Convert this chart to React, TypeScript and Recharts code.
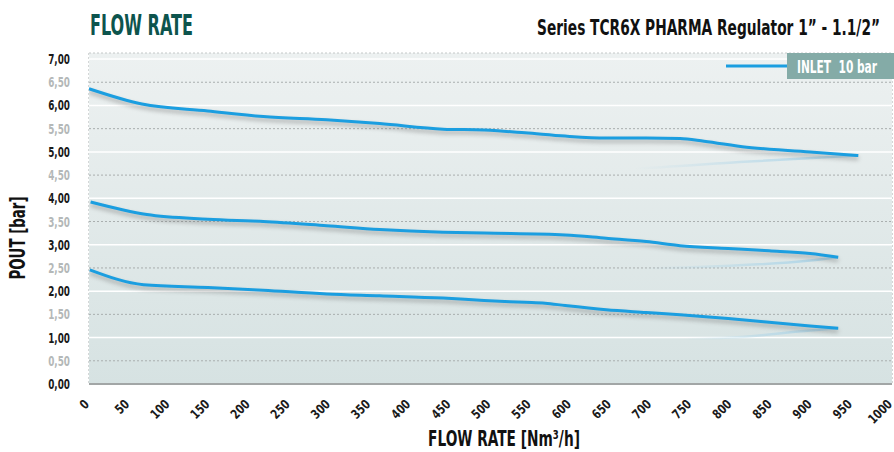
import { useLayoutEffect, useRef, useState } from 'react';
import { LineChart, Line, XAxis, YAxis, CartesianGrid, ReferenceArea, ReferenceLine, Customized } from 'recharts';

const FONT = "'DejaVu Sans Condensed', 'Liberation Sans Narrow', sans-serif";
const BLUE = '#1b9ee0';
const TEAL = '#0d544d';

// flow rate [Nm3/h] -> outlet pressure [bar]
const TOP_Q = [0, 66, 148, 217, 296, 362, 441, 492, 543, 593, 644, 694, 736, 766, 819, 898, 958];
const TOP_P = [6.36, 6.03, 5.88, 5.76, 5.69, 5.61, 5.49, 5.47, 5.41, 5.34, 5.3, 5.3, 5.29, 5.23, 5.1, 5.0, 4.92];
const MID_Q = [2, 72, 148, 217, 296, 362, 441, 492, 593, 644, 694, 736, 796, 847, 898, 933];
const MID_P = [3.92, 3.65, 3.55, 3.5, 3.41, 3.33, 3.27, 3.25, 3.21, 3.14, 3.07, 2.98, 2.92, 2.87, 2.81, 2.73];
const LOW_Q = [1, 68, 148, 217, 296, 362, 441, 492, 543, 568, 593, 644, 694, 736, 796, 847, 898, 933];
const LOW_P = [2.46, 2.14, 2.08, 2.02, 1.94, 1.9, 1.85, 1.8, 1.76, 1.74, 1.69, 1.6, 1.54, 1.49, 1.41, 1.33, 1.25, 1.2];

// faint return curves
const TOP_RET_Q = [680, 713, 810, 958];
const TOP_RET_P = [4.64, 4.67, 4.78, 4.92];
const MID_RET_Q = [690, 736, 898, 933];
const MID_RET_P = [2.49, 2.51, 2.66, 2.73];
const LOW_RET_Q = [740, 798, 898, 933];
const LOW_RET_P = [0.97, 1.0, 1.15, 1.2];

const X_TICKS = [0, 50, 100, 150, 200, 250, 300, 350, 400, 450, 500, 550, 600, 650, 700, 750, 800, 850, 900, 950, 1000];
const Y_TICKS = [0, 0.5, 1, 1.5, 2, 2.5, 3, 3.5, 4, 4.5, 5, 5.5, 6, 6.5, 7];
const Y_MAX = 7.13;
const LEGEND_LABEL = 'INLET\u00a0 10 bar';

const zip = (q: number[], p: number[]) => q.map((v, i) => ({ q: v, p: p[i] }));

// squeezes a text horizontally so it spans the given width (condensed look)
function FitText({ x, y, width, anchor = 'start', rotate = 0, children, ...rest }: any) {
  const ref = useRef<SVGTextElement>(null);
  const [s, setS] = useState(1);
  useLayoutEffect(() => {
    const w = ref.current?.getBBox().width;
    if (w) setS(width / w);
  }, [width]);
  return (
    <text ref={ref} transform={`translate(${x},${y}) rotate(${rotate}) scale(${s},1)`} textAnchor={anchor}
      fontFamily={FONT} fontWeight="bold" {...rest}>
      {children}
    </text>
  );
}

function YTick({ x, y, payload }: any) {
  const v = payload.value as number;
  const whole = v % 1 === 0;
  return (
    <FitText x={x - 11} y={y + 5} width={22} anchor="end" fontSize={14} fill={whole ? '#1a1a1a' : '#b4b8b8'}>
      {v.toFixed(2).replace('.', ',')}
    </FitText>
  );
}

function XTick({ x, y, payload }: any) {
  return (
    <g transform={`translate(${x + 1},${y + 13})`}>
      <text textAnchor="end" transform="rotate(-45) scale(0.85,1)" fontFamily={FONT} fontWeight="bold" fontSize={13} fill="#1a1a1a">
        {payload.value}
      </text>
    </g>
  );
}

function Titles() {
  return (
    <g>
      <FitText x={90} y={35} width={103} fontSize={28} fill={TEAL}>FLOW RATE</FitText>
      <FitText x={880} y={35} width={343} anchor="end" fontSize={22} fill="#111">
        Series TCR6X PHARMA Regulator 1” - 1.1/2”
      </FitText>
      <FitText x={25} y={238} width={83} anchor="middle" rotate={-90} fontSize={22} fill="#111">POUT [bar]</FitText>
      <FitText x={504} y={446} width={152} anchor="middle" fontSize={22} fill="#111">FLOW RATE [Nm³/h]</FitText>
    </g>
  );
}

function LegendOverlay() {
  return (
    <svg width={170} height={26} style={{ position: 'absolute', left: 724, top: 53 }}>
      <line x1={2} y1={13} x2={64} y2={13} stroke={BLUE} strokeWidth={3} />
      <rect x={63} y={0} width={107} height={26} fill="#84aba7" />
      <FitText x={73} y={20} width={80} fontSize={18} fill="#fff">{LEGEND_LABEL}</FitText>
    </svg>
  );
}

const lineStyle = { filter: 'drop-shadow(0 3px 2px rgba(90,90,90,0.45))' };

export default function App() {
  return (
    <div style={{ position: 'absolute', left: 0, top: 0, width: 894, height: 452, background: '#fff' }}>
      <LineChart width={894} height={452} margin={{ top: 53, right: 2, bottom: 38, left: 0 }}>
        <defs>
          <linearGradient id="bg" x1="0" y1="0" x2="0" y2="1">
            <stop offset="0%" stopColor="#edf1f1" />
            <stop offset="100%" stopColor="#d6e2e2" />
          </linearGradient>
          <linearGradient id="fade" x1="0" y1="0" x2="1" y2="0">
            <stop offset="0%" stopColor="#a8d3e8" stopOpacity={0} />
            <stop offset="100%" stopColor="#a8d3e8" stopOpacity={0.9} />
          </linearGradient>
        </defs>
        <ReferenceArea x1={0} x2={1000} y1={0} y2={Y_MAX} fill="url(#bg)" fillOpacity={1} ifOverflow="hidden" />
        <CartesianGrid horizontal={false} stroke="#a9aeae" strokeDasharray="2 2" />
        {Y_TICKS.filter((v) => v > 0).map((v) => (
          v % 1 === 0
            ? <ReferenceLine key={v} y={v} stroke="#ffffff" strokeWidth={1.5} />
            : <ReferenceLine key={v} y={v} stroke="#a9aeae" strokeDasharray="2 2" />
        ))}
        <ReferenceLine y={Y_MAX} stroke="#c4c8c8" strokeDasharray="2 2" />
        <XAxis dataKey="q" type="number" domain={[0, 1000]} ticks={X_TICKS} interval={0} height={30}
          tick={<XTick />} tickLine={false} axisLine={{ stroke: '#a2a6a6', strokeWidth: 2 }} allowDataOverflow />
        <YAxis dataKey="p" type="number" domain={[0, Y_MAX]} ticks={Y_TICKS} interval={0} width={89}
          tick={<YTick />} tickLine={false} axisLine={false} allowDataOverflow />
        <Line data={zip(TOP_RET_Q, TOP_RET_P)} dataKey="p" type="monotone" stroke="url(#fade)" strokeWidth={2.5} dot={false} isAnimationActive={false} />
        <Line data={zip(MID_RET_Q, MID_RET_P)} dataKey="p" type="monotone" stroke="url(#fade)" strokeWidth={2.5} dot={false} isAnimationActive={false} />
        <Line data={zip(LOW_RET_Q, LOW_RET_P)} dataKey="p" type="monotone" stroke="url(#fade)" strokeWidth={2.5} dot={false} isAnimationActive={false} />
        <Line data={zip(TOP_Q, TOP_P)} dataKey="p" type="monotone" stroke={BLUE} strokeWidth={3} dot={false} isAnimationActive={false} style={lineStyle} />
        <Line data={zip(MID_Q, MID_P)} dataKey="p" type="monotone" stroke={BLUE} strokeWidth={3} dot={false} isAnimationActive={false} style={lineStyle} />
        <Line data={zip(LOW_Q, LOW_P)} dataKey="p" type="monotone" stroke={BLUE} strokeWidth={3} dot={false} isAnimationActive={false} style={lineStyle} />
        <Customized component={Titles} />
      </LineChart>
      <LegendOverlay />
    </div>
  );
}
